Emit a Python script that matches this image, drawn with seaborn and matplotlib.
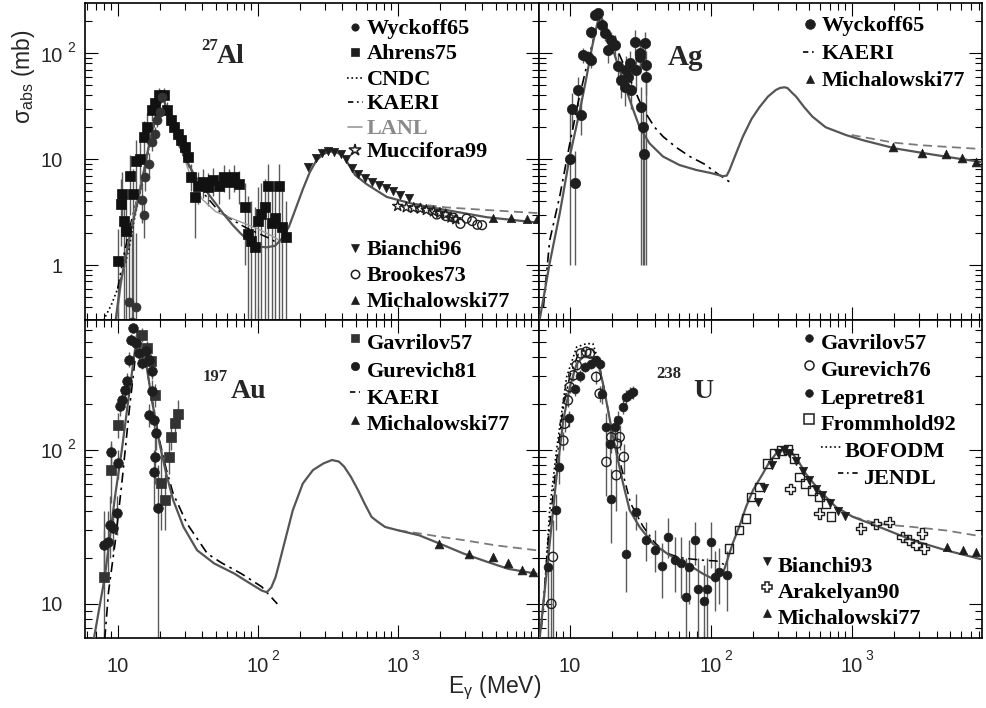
import numpy as np
import matplotlib
matplotlib.use("Agg")
import matplotlib.pyplot as plt
import seaborn as sns
from matplotlib.ticker import FixedLocator, LogLocator, NullFormatter
from matplotlib.lines import Line2D
from matplotlib.transforms import blended_transform_factory, offset_copy

# ----------------------------------------------------------------- data: 27Al
al_model_E = [9.6, 10.5, 11.5, 12.5, 14.0, 15.5, 16.6, 18.5, 20.8, 22.5, 24.6, 27.5, 30.9, 35.5, 41, 48, 57, 66, 76, 88,
              100, 115, 133, 150, 167, 188, 210, 235, 262, 295, 330, 350, 370, 390, 413, 456, 495, 600, 834, 1290,
              2240, 4310, 10200]
al_model_s = [0.28, 0.7, 1.25, 2.2, 4.1, 8.0, 13, 24, 41, 29, 20, 13.5, 9.7, 7.0, 5.4, 4.1, 3.04, 2.4, 1.97, 1.65,
              1.5, 1.47, 1.52, 1.8, 2.3, 3.5, 5.2, 7.5, 9.7, 11.2, 11.8, 11.8, 11.5, 11.1, 10.5, 8.5, 7.1, 5.8, 4.4,
              3.77, 3.3, 2.83, 2.51]
al_dash_E = [1290, 2240, 4310, 10200]
al_dash_s = [3.8, 3.5, 3.31, 3.09]
al_cndc_E = [7.9, 9.0, 10.0, 11.0, 12.0, 13.0, 14.5, 16, 18, 20.5, 23, 26, 30]
al_cndc_s = [0.3, 0.42, 0.6, 0.9, 1.4, 2.5, 5.0, 10, 20, 38, 27, 16, 10]
al_kaeri_E = [10, 11, 12.5, 14.5, 17, 19, 21, 23, 26, 30, 35, 42, 52, 65, 80, 100, 120, 140]
al_kaeri_s = [0.6, 1.2, 2.6, 5.5, 14, 27, 38, 28, 18, 11, 7.0, 4.6, 3.3, 2.7, 2.3, 2.0, 1.8, 1.6]
al_lanl_E = [9.8, 10.5, 11.5, 13, 15, 17, 19, 20.8, 23, 26, 30, 34, 40, 50, 68, 85, 100, 120, 135, 150]
al_lanl_s = [0.3, 0.6, 1.3, 3.0, 7, 15, 28, 40, 28, 17.4, 10, 6.3, 4.2, 3.2, 2.7, 2.4, 2.2, 1.95, 1.8, 1.6]
al_wyck_E = [12.1, 12.6, 13.6, 14.8, 15.3, 15.7, 16.6, 17.6, 18.6, 19.1, 19.9, 20.8]
al_wyck_s = [0.45, 0.29, 0.40, 4.1, 3.0, 6.8, 9.0, 14.5, 17.4, 23.3, 28, 39]
al_wyck_lo = [0.1, 0.1, 0.1, 2.5, 1.8, 5.0, 7.0, 12, 15, 20, 25, 35]
al_wyck_hi = [2.5, 2.0, 2.0, 6.0, 4.5, 8.8, 11.5, 17, 20, 27, 31, 43]
al_ahrens_E = [10, 10.5, 10.7, 11.1, 11.5, 12.2, 12.9, 13.6, 14.4, 15.3, 16.1, 17.6, 18.6, 19.7, 21.4, 22.6, 24, 25.4,
               26.8, 28.4, 30, 31.8, 33.6, 35.5, 37.6, 40.9, 44.4, 48.2, 52.6, 57.4, 62.4, 68, 74, 80.6, 85, 90, 95,
               100, 106, 113, 119, 126, 133, 141, 149, 158]
al_ahrens_s = [1.1, 3.8, 4.7, 2.6, 2.1, 7.0, 4.7, 9.7, 10.1, 16.2, 20, 29, 33.6, 40, 40, 29, 23.3, 20, 17.4, 15, 13,
               10.5, 6.8, 4.4, 5.6, 6.1, 5.4, 6.3, 5.6, 6.8, 6.1, 6.8, 5.8, 3.5, 1.97, 1.7, 1.47, 2.6, 3.04, 3.5, 5.6,
               2.5, 2.8, 5.6, 2.27, 1.83]
al_ahrens_lo = [0.2, 1.5, 2.0, 0.2, 0.2, 3.0, 0.2, 4.5, 5.5, 10, 14, 23, 27, 33, 33, 24, 19, 16, 14, 12, 10.5, 8.4, 5.0,
                1.8, 3.8, 4.3, 3.6, 4.5, 3.8, 4.9, 4.2, 4.9, 3.8, 1.0, 0.1, 0.1, 0.1, 0.1, 0.1, 0.1, 0.1, 0.1, 0.1,
                0.1, 0.1, 0.1]
al_ahrens_hi = [2.2, 6.5, 7.5, 5.0, 4.5, 11, 8.0, 15, 15, 23, 27, 35, 40, 47, 47, 35, 28, 24, 21, 18, 16, 13, 9, 7.5,
                7.6, 8.0, 7.4, 8.3, 7.5, 8.8, 8.0, 8.8, 7.8, 6.0, 4.5, 4.0, 3.5, 5.5, 6.0, 6.5, 9.0, 5.5, 6.0, 9.0,
                5.0, 4.0]
al_bianchi_E = [230, 260, 290, 320, 350, 390, 430, 470, 520, 580, 650, 730, 820, 920, 1040, 1200]
al_bianchi_s = [8.5, 10.2, 11.5, 11.9, 11.8, 11.2, 10.0, 8.2, 7.3, 6.6, 6.1, 5.7, 5.3, 5.0, 4.6, 4.3]
al_mucc_E = [1000, 1150, 1300, 1450, 1600, 1800, 2000, 2200, 2400, 2600]
al_mucc_s = [3.6, 3.5, 3.45, 3.4, 3.3, 3.2, 3.1, 3.0, 2.8, 2.7]
al_brookes_E = [1900, 2200, 2500, 2800, 3100, 3400, 3700, 4000]
al_brookes_s = [3.0, 2.9, 2.8, 2.45, 2.75, 2.6, 2.4, 2.38]
al_mich_E = [4800, 6400, 8400, 9900]
al_mich_s = [2.78, 2.76, 2.74, 2.7]

# ----------------------------------------------------------------- data: Ag
ag_model_E = [6.13, 7.2, 8.5, 10, 11.8, 13.0, 14.5, 16.3, 17.5, 19, 20.3, 22.5, 25.2, 28, 31.3, 36.8, 45.8, 60, 79,
              100, 122, 130, 136, 150, 169, 195, 222, 255, 290, 310, 333, 350, 380, 403, 460, 527, 654, 910, 1200,
              2050, 3520, 6050, 8850]
ag_model_s = [0.31, 1.04, 3.1, 10.6, 29, 55, 120, 239, 190, 135, 107, 70, 45, 30, 20, 14.1, 10.6, 8.8, 7.9, 7.4, 6.9,
              7.0, 7.9, 11, 16.3, 24, 31, 39, 45, 47, 47.7, 47, 42, 39, 31, 25.2, 20, 16.9, 15.1, 12.6, 11.2, 10.0,
              9.3]
ag_dash_E = [1000, 2000, 3200, 5000, 8850]
ag_dash_s = [16.9, 14.3, 13.5, 13.0, 12.4]
ag_kaeri_E = [6.5, 7.2, 8.5, 10.0, 11.5, 13, 15, 16.5, 20, 25, 30, 33, 40, 46, 57, 71, 90, 110, 136]
ag_kaeri_s = [0.4, 1.7, 4.5, 14, 35, 70, 150, 220, 140, 70, 40, 30, 20, 16.3, 12.9, 10.6, 9.0, 7.4, 6.1]
ag_wyck_E = [10.0, 10.4, 10.98, 11.4, 12.0, 12.4, 13.5, 14.2, 14.2, 15.0, 15.9, 16.8, 17.7, 18.7, 19.7, 21.0, 22.0,
             23.2, 24.5, 25.0, 25.9, 26.6, 27.3, 28.9, 29.7, 31.3, 31.3, 32.2, 33.1, 33.5, 34.0, 34.5, 35.0]
ag_wyck_s = [10, 30, 6.0, 45, 26, 96, 93, 86, 160, 230, 240, 185, 155, 107, 133, 120, 75, 56, 48, 70, 60, 80, 45, 128,
             70, 93, 100, 31, 20, 11.2, 126, 78, 60]
ag_wyck_lo = [1.0, 20, 1.0, 32, 17, 80, 80, 72, 140, 210, 220, 165, 130, 80, 105, 90, 50, 38, 32, 48, 40, 55, 30, 95,
              45, 65, 70, 1.0, 1.0, 1.0, 95, 1.0, 40]
ag_wyck_hi = [30, 42, 12, 60, 38, 112, 106, 100, 180, 250, 260, 205, 180, 135, 160, 150, 100, 80, 65, 95, 80, 105, 62,
              165, 95, 120, 130, 48, 32, 20, 160, 105, 80]
ag_mich_E = [1950, 3180, 4650, 6050, 7600]
ag_mich_s = [13.1, 11.4, 11.2, 10.2, 9.5]

# ----------------------------------------------------------------- data: 197Au
au_model_E = [6.75, 8.08, 9.56, 10.7, 12.0, 13.8, 15.8, 17.7, 19.9, 22.2, 24.9, 29.5, 36.9, 48.9, 68.4, 85.7, 107,
              116, 125, 134, 142, 159, 178, 210, 248, 295, 339, 380, 414, 462, 520, 579, 650, 724, 812, 906, 1013,
              1420, 2000, 2960, 4390, 6140, 9800]
au_model_s = [5.9, 14.9, 49.6, 100, 223, 580, 386, 201, 110, 70, 47.2, 31.6, 22.3, 18.3, 15.7, 13.8, 12.2, 11.9, 12.8,
              14.9, 18.2, 27.2, 40.6, 60.6, 74, 81.8, 86, 84, 77.9, 67, 54.9, 44.9, 36.7, 34, 31.6, 30.8, 30, 27.9,
              24.6, 21.2, 18.7, 16.9, 15.7]
au_dash_E = [1013, 1500, 2000, 3000, 5000, 9800]
au_dash_s = [30, 28.5, 27.3, 25.9, 24.0, 22.3]
au_kaeri_E = [8.08, 8.6, 9.56, 10.7, 12.0, 13.8, 15.8, 17.7, 19.9, 22.2, 24.9, 31.2, 43.7, 55, 76.5, 107, 138]
au_kaeri_s = [5.9, 12, 24.6, 60.6, 170, 520, 380, 205, 115, 75, 52, 33.3, 21.2, 18.5, 15.7, 12.9, 10]
au_gav_E = [7.94, 8.93, 10.0, 15.0, 16.3, 17.2, 18.5, 20.4, 21.6, 23.2, 23.9, 25.5, 26.9]
au_gav_s = [14.9, 74, 145, 560, 460, 377, 228, 60.6, 47.2, 90.5, 122, 149, 170]
au_gav_lo = [5, 45, 120, 500, 410, 330, 190, 30, 30, 70, 100, 125, 140]
au_gav_hi = [30, 110, 175, 620, 510, 420, 270, 100, 70, 115, 145, 175, 210]
au_gur_E = [7.98, 8.5, 8.93, 8.8, 9.3, 10.0, 9.85, 10.4, 10.8, 11.2, 11.6, 12.1, 12.5, 12.9, 13.4, 14.2, 15.0, 15.8,
            16.8, 17.5, 17.7, 16.8, 18.3, 18.8, 18.5, 18.3, 19.3]
au_gur_s = [24, 25.3, 97.5, 32.4, 30.9, 81.8, 38.7, 192, 212, 246, 279, 386, 521, 620, 496, 426, 368, 438, 386, 324,
            240, 169, 157, 128, 90.5, 72, 41.7]
au_gur_lo = [14, 15, 80, 20, 22, 65, 28, 165, 185, 215, 245, 345, 480, 580, 455, 390, 335, 400, 350, 290, 200, 140,
             130, 100, 60, 40, 3]
au_gur_hi = [40, 40, 115, 50, 42, 100, 50, 220, 240, 280, 315, 430, 565, 660, 540, 465, 405, 480, 425, 360, 285, 200,
             185, 160, 125, 100, 80]
au_mich_E = [1970, 3240, 4820, 6140, 7660, 9200]
au_mich_s = [24.6, 21.2, 20.2, 18.3, 16.6, 16.2]

# ----------------------------------------------------------------- data: 238U
u_model_E = [6.13, 7.2, 8.05, 9.0, 10, 11.2, 12.4, 14.2, 15.9, 17.2, 18.7, 20.3, 22, 23.9, 26.6, 31.3, 38.9, 51.1,
             70.8, 88, 103, 122, 143, 160, 178, 200, 234, 260, 291, 310, 333, 355, 381, 420, 473, 589, 773, 1018,
             1570, 2710, 4660, 8880]
u_model_s = [6.1, 24.6, 66.8, 156, 256, 363, 401, 401, 363, 270, 181, 121, 85.7, 60.5, 40.6, 31.6, 24.6, 20.7, 17.8,
             15.7, 14.6, 15.7, 24.6, 32, 42.6, 55, 70, 83, 94.7, 99, 102, 100, 94.7, 84, 70, 54.7, 42.6, 36.8, 31.6,
             25.9, 22.3, 19.2]
u_dash_E = [1018, 1570, 2710, 4660, 8880]
u_dash_s = [36.8, 33.0, 31.6, 30.0, 27.2]
u_bofodm_E = [6.5, 7.2, 8.05, 9.5, 11.2, 13.1, 14.6, 15.9, 17.5]
u_bofodm_s = [9.1, 40.6, 99.5, 298, 466, 490, 490, 383, 250]
u_jendl_E = [6.3, 7.0, 8.0, 9.0, 10, 11.5, 13, 14.5, 16, 18, 20, 23, 27, 33, 40, 48, 60, 75, 90, 110, 125]
u_jendl_s = [7, 25, 80, 190, 300, 420, 450, 450, 380, 220, 130, 80, 45, 32, 25, 21.5, 20, 19.5, 19.2, 19, 18]
u_gav_E = [7.03, 8.05, 8.4, 9.9, 10.9, 11.9, 12.8, 14.2, 15.4, 16.3, 16.8, 18.2, 19.2, 19.7]
u_gav_s = [17.4, 40.6, 77.5, 160, 248, 301, 346, 363, 383, 363, 232, 141, 110, 48.3]
u_gav_lo = [6, 30, 60, 140, 225, 275, 320, 335, 355, 335, 200, 110, 80, 25]
u_gav_hi = [28, 52, 95, 180, 270, 330, 375, 390, 410, 390, 265, 175, 145, 75]
u_gur_E = [7.4, 7.6, 9.0, 9.2, 9.7, 10, 10.6, 11.2, 12, 13.1, 13.9, 15.4, 16.3, 18.2, 19.7, 21.4, 21.6, 22.6, 24.2]
u_gur_s = [10, 20.2, 115, 148, 210, 256, 305, 355, 423, 434, 423, 298, 232, 83.6, 121, 68.5, 110, 121, 90]
u_gur_lo = [3, 3, 100, 130, 190, 235, 280, 330, 395, 405, 395, 270, 205, 50, 95, 40, 85, 100, 70]
u_gur_hi = [17, 35, 130, 166, 230, 278, 330, 380, 450, 465, 450, 325, 260, 115, 150, 100, 135, 145, 110]
u_lep_E = [20.8, 22, 23.9, 25.2, 26.6, 28, 24.9, 29.6, 34.5, 40, 45.3, 49.7, 55.5, 61.9, 67, 70, 77.6, 81, 88.9, 93.8,
           100, 108, 115, 130]
u_lep_s = [141, 156, 190, 221, 232, 238, 21.2, 39.6, 25.9, 22.5, 17.6, 27.2, 19.2, 18.5, 11.1, 17.4, 25.9, 12.5, 10.5,
           12.5, 25.3, 15.0, 16.1, 15.3]
u_lep_lo = [120, 135, 170, 200, 210, 215, 12, 30, 19, 16, 11, 20, 12, 11, 3, 10, 18, 6, 3, 6, 17, 9, 10, 9]
u_lep_hi = [165, 180, 212, 245, 255, 262, 40, 52, 34, 30, 25, 36, 27, 27, 20, 26, 34, 20, 18, 20, 34, 22, 23, 22]
u_fromm_E = [135, 159, 178, 193, 222, 253, 283, 316, 354, 390, 425, 473, 525, 589, 657, 714]
u_fromm_s = [22.9, 30.2, 35.8, 49.5, 57.5, 81.5, 94.7, 99.5, 100.5, 88, 66.8, 60.5, 54.7, 49.5, 44.9, 36.8]
u_bianchi_E = [215, 240, 270, 300, 330, 360, 400, 450, 500, 560, 620, 700, 800, 900]
u_bianchi_s = [46, 57, 80, 95, 100, 96, 85, 73, 64, 56, 51, 45, 40, 37]
u_arak_E = [367, 589, 1160, 1490, 1850, 2300, 2550, 2860, 3160, 3270]
u_arak_s = [55.6, 38.6, 30.9, 33.2, 33.9, 27.2, 25.9, 24.1, 28.6, 22.9]
u_mich_E = [4750, 6150, 7620]
u_mich_s = [23.5, 22.5, 21.8]

# ----------------------------------------------------------------- style
sns.set_theme(style="ticks")
plt.rcParams.update({
    "font.family": ["Liberation Sans", "DejaVu Sans"],
    "mathtext.fontset": "custom",
    "mathtext.rm": "Liberation Sans",
    "mathtext.it": "Liberation Sans:italic",
    "mathtext.bf": "Liberation Sans:bold",
    "axes.facecolor": "white",
    "figure.facecolor": "white",
})

MODEL = "#555555"
DASH = "#7a7a7a"
MARK = "#1e1e1e"
ERR = "#5a5a5a"
SERIF = "Liberation Serif"

W, H = 986, 708
fig = plt.figure(figsize=(W / 100, H / 100), dpi=100)


def rect(x0, y0, x1, y1):
    return [x0 / W, 1 - y1 / H, (x1 - x0) / W, (y1 - y0) / H]


ax_al = fig.add_axes(rect(85, 3.3, 539, 320))
ax_ag = fig.add_axes(rect(539, 3.3, 982, 320))
ax_au = fig.add_axes(rect(85, 320, 539, 637.5))
ax_u = fig.add_axes(rect(539, 320, 982, 637.5))


def setup(ax, xlim, ylim):
    ax.set_xscale("log")
    ax.set_yscale("log")
    ax.set_xlim(*xlim)
    ax.set_ylim(*ylim)
    ax.xaxis.set_major_locator(FixedLocator([10, 100, 1000]))
    ax.yaxis.set_major_locator(FixedLocator([1, 10, 100]))
    for a in (ax.xaxis, ax.yaxis):
        a.set_minor_locator(LogLocator(base=10, subs=np.arange(2, 10), numticks=40))
        a.set_major_formatter(NullFormatter())
        a.set_minor_formatter(NullFormatter())
    ax.tick_params(which="both", direction="in", top=True, right=True, bottom=True, left=True,
                   labelbottom=False, labelleft=False, color="black", width=0.8)
    ax.tick_params(which="major", length=9.6)
    ax.tick_params(which="minor", length=4.8)
    for sp in ax.spines.values():
        sp.set_visible(True)
        sp.set_linewidth(1.2)
        sp.set_color("black")
    ax.set_xlabel("")
    ax.set_ylabel("")


setup(ax_al, (5.84, 10200), (0.303, 296))
setup(ax_ag, (6.05, 8410), (0.303, 296))
setup(ax_au, (5.84, 10200), (6.05, 698))
setup(ax_u, (6.05, 8410), (6.05, 698))


def curve(ax, E, s, color=MODEL, lw=1.6, ls="-", z=3):
    sns.lineplot(x=E, y=s, ax=ax, color=color, linewidth=lw, linestyle=ls,
                 estimator=None, sort=False, zorder=z)
    ax.lines[-1].set_solid_joinstyle("round")


def pts(ax, E, s, marker, size, filled=True, color=MARK, lw=1.0):
    if filled:
        sns.scatterplot(x=E, y=s, ax=ax, marker=marker, s=size, color=color,
                        edgecolor=color, linewidth=0.5, zorder=5)
    else:
        sns.scatterplot(x=E, y=s, ax=ax, marker=marker, s=size, facecolors="none",
                        edgecolor=color, linewidth=lw, zorder=5)


def bars(ax, E, lo, hi):
    ax.vlines(E, lo, hi, colors=ERR, linewidth=1.0, zorder=2.5)


DOT = ":"
DASHDOT = (0, (6, 3, 1.5, 3))
DASHED = (0, (5, 3))
KEY_DASHDOT = (0, (3.2, 2.2, 1.0, 2.2))

# --- Al
curve(ax_al, al_cndc_E, al_cndc_s, color="black", lw=1.2, ls=DOT)
curve(ax_al, al_kaeri_E, al_kaeri_s, color="black", lw=1.1, ls=DASHDOT)
curve(ax_al, al_lanl_E, al_lanl_s, color="#9a9a9a", lw=1.0)
curve(ax_al, al_dash_E, al_dash_s, color=DASH, lw=1.3, ls=DASHED)
curve(ax_al, al_model_E, al_model_s)
bars(ax_al, al_ahrens_E, al_ahrens_lo, al_ahrens_hi)
bars(ax_al, al_wyck_E, al_wyck_lo, al_wyck_hi)
pts(ax_al, al_ahrens_E, al_ahrens_s, "s", 42, color="#111111")
pts(ax_al, al_wyck_E, al_wyck_s, "o", 42, color="#333333")
pts(ax_al, al_bianchi_E, al_bianchi_s, "v", 36)
pts(ax_al, al_mucc_E, al_mucc_s, "*", 60, filled=False)
pts(ax_al, al_brookes_E, al_brookes_s, "o", 40, filled=False)
pts(ax_al, al_mich_E, al_mich_s, "^", 36)

# --- Ag
curve(ax_ag, ag_kaeri_E, ag_kaeri_s, color="black", lw=1.2, ls=DASHDOT)
curve(ax_ag, ag_dash_E, ag_dash_s, color=DASH, lw=1.3, ls=DASHED)
curve(ax_ag, ag_model_E, ag_model_s)
bars(ax_ag, ag_wyck_E, ag_wyck_lo, ag_wyck_hi)
pts(ax_ag, ag_wyck_E, ag_wyck_s, "o", 55)
pts(ax_ag, ag_mich_E, ag_mich_s, "^", 40)

# --- Au
curve(ax_au, au_kaeri_E, au_kaeri_s, color="black", lw=1.2, ls=DASHDOT)
curve(ax_au, au_dash_E, au_dash_s, color=DASH, lw=1.3, ls=DASHED)
curve(ax_au, au_model_E, au_model_s)
bars(ax_au, au_gav_E, au_gav_lo, au_gav_hi)
bars(ax_au, au_gur_E, au_gur_lo, au_gur_hi)
pts(ax_au, au_gav_E, au_gav_s, "s", 42, color="#333333")
pts(ax_au, au_gur_E, au_gur_s, "o", 48)
pts(ax_au, au_mich_E, au_mich_s, "^", 40)

# --- U
curve(ax_u, u_bofodm_E, u_bofodm_s, color="black", lw=1.2, ls=DOT)
curve(ax_u, u_jendl_E, u_jendl_s, color="black", lw=1.1, ls=DASHDOT)
curve(ax_u, u_dash_E, u_dash_s, color=DASH, lw=1.3, ls=DASHED)
curve(ax_u, u_model_E, u_model_s)
bars(ax_u, u_gav_E, u_gav_lo, u_gav_hi)
bars(ax_u, u_gur_E, u_gur_lo, u_gur_hi)
bars(ax_u, u_lep_E, u_lep_lo, u_lep_hi)
pts(ax_u, u_gav_E, u_gav_s, "o", 40)
pts(ax_u, u_lep_E, u_lep_s, "o", 40)
pts(ax_u, u_gur_E, u_gur_s, "o", 44, filled=False)
pts(ax_u, u_fromm_E, u_fromm_s, "s", 40, filled=False)
pts(ax_u, u_bianchi_E, u_bianchi_s, "v", 36)
pts(ax_u, u_arak_E, u_arak_s, "P", 55, filled=False)
pts(ax_u, u_mich_E, u_mich_s, "^", 36)


# ----------------------------------------------------------------- tick labels (ROOT style)
def xlabels(ax, ticks):
    tr = blended_transform_factory(ax.transData, ax.transAxes)
    for t in ticks:
        e = int(round(np.log10(t)))
        ax.text(t, 0, "1" if e == 0 else "10", ha="center", va="baseline", fontsize=14.5,
                transform=offset_copy(tr, fig=fig, x=0, y=-35, units="dots"))
        if e >= 2:
            ax.text(t, 0, str(e), ha="left", va="baseline", fontsize=10,
                    transform=offset_copy(tr, fig=fig, x=13.5, y=-22.5, units="dots"))


def ylabels(ax, ticks):
    tr = blended_transform_factory(ax.transAxes, ax.transData)
    for t in ticks:
        e = int(round(np.log10(t)))
        dy = -7.5 if e < 2 else -8.5
        ax.text(0, t, "1" if e == 0 else "10", ha="right", va="baseline", fontsize=14.5,
                transform=offset_copy(tr, fig=fig, x=-22, y=dy, units="dots"))
        if e >= 2:
            ax.text(0, t, str(e), ha="left", va="baseline", fontsize=10,
                    transform=offset_copy(tr, fig=fig, x=-18, y=1, units="dots"))


xlabels(ax_au, [10, 100, 1000])
xlabels(ax_u, [10, 100, 1000])
ylabels(ax_al, [1, 10, 100])
ylabels(ax_au, [10, 100])

fig.text(541.7 / W, 1 - 692.7 / H, r"E$_{\mathregular{\gamma}}$ (MeV)", ha="right", va="baseline",
         fontsize=16.5)
fig.text(23.4 / W, 1 - 76.7 / H, r"$\mathregular{\sigma_{abs}}$ (mb)", rotation=90, ha="center",
         va="center", fontsize=16.5)


# ----------------------------------------------------------------- panel labels
def nucleus(xs, ys, sup, xe, ye, sym, size=20):
    if sup:
        fig.text(xs / W, 1 - ys / H, sup, family=SERIF, fontweight="bold", fontsize=12, va="baseline")
    fig.text(xe / W, 1 - ye / H, sym, family=SERIF, fontweight="bold", fontsize=size, va="baseline")


nucleus(201.4, 50, "27", 217, 63.3, "Al")
nucleus(0, 0, "", 668, 65, "Ag", size=21)
nucleus(203, 380.7, "197", 231, 398.3, "Au")
nucleus(656, 378, "238", 693, 398, "U")


# ----------------------------------------------------------------- legends (ROOT-like, drawn in figure pixels)
def key_marker(x, y, marker, ms, filled=True, color=MARK):
    fig.add_artist(Line2D([x / W], [1 - y / H], transform=fig.transFigure, marker=marker, ms=ms,
                          mfc=color if filled else "none", mec=color, mew=0.5 if filled else 1.1,
                          ls="none"))


def key_line(x0, x1, y, ls, color="black", lw=1.2):
    fig.add_artist(Line2D([x0 / W, x1 / W], [1 - y / H, 1 - y / H], transform=fig.transFigure,
                          color=color, lw=lw, linestyle=ls))


def key_text(x, y, s, color="black"):
    fig.text(x / W, 1 - (y + 7) / H, s, family=SERIF, fontweight="bold", fontsize=16,
             va="baseline", color=color)


# Al upper
for yy, lab, m in [(26.7, "Wyckoff65", ("o", 5.3, True)), (52.3, "Ahrens75", ("s", 5.3, True)),
                   (150, "Muccifora99", ("*", 9, False))]:
    key_marker(355, yy, m[0], m[1], m[2])
    key_text(366.7, yy, lab)
key_line(346.7, 361.7, 77.7, DOT)
key_text(366.7, 77.7, "CNDC")
key_line(348, 363, 102.3, KEY_DASHDOT)
key_text(366.7, 102.3, "KAERI")
key_line(348, 362, 126.7, "-", color="#9a9a9a")
key_text(366.7, 126.7, "LANL", color="#8a8a8a")
# Al lower
for yy, lab, m in [(247.7, "Bianchi96", ("v", 5.5, True)), (274, "Brookes73", ("o", 6, False)),
                   (300, "Michalowski77", ("^", 5.5, True))]:
    key_marker(355, yy, m[0], m[1], m[2])
    key_text(366.7, yy, lab)
# Ag
key_marker(810, 24, "o", 7)
key_text(821.7, 24, "Wyckoff65")
key_line(803, 817, 51.7, KEY_DASHDOT)
key_text(821.7, 51.7, "KAERI")
key_marker(810, 79, "^", 6)
key_text(821.7, 79, "Michalowski77")
# Au
key_marker(354.7, 338, "s", 5.5, color="#333333")
key_text(366.7, 341.7, "Gavrilov57")
key_marker(354.7, 366, "o", 6)
key_text(366.7, 370, "Gurevich81")
key_line(349.5, 360, 391.7, KEY_DASHDOT)
key_text(366.7, 397.3, "KAERI")
key_marker(354.7, 419.5, "^", 5.5)
key_text(366.7, 423.3, "Michalowski77")
# U upper
for yy, lab, m in [(341.7, "Gavrilov57", ("o", 5.5, True)), (369, "Gurevich76", ("o", 6.5, False)),
                   (396.7, "Lepretre81", ("o", 5.5, True)), (423.3, "Frommhold92", ("s", 6.5, False))]:
    key_marker(809, yy - 4, m[0], m[1], m[2])
    key_text(820.7, yy, lab)
key_line(821, 842, 446.7, DOT)
key_text(845, 450, "BOFODM")
key_line(838, 858, 472.7, KEY_DASHDOT)
key_text(863, 476.7, "JENDL")
# U lower
for yy, lab, m in [(565, "Bianchi93", ("v", 5.5, True)), (591, "Arakelyan90", ("P", 7, False)),
                   (617.3, "Michalowski77", ("^", 5.5, True))]:
    key_marker(766.7, yy - 4, m[0], m[1], m[2])
    key_text(778, yy, lab)

fig.savefig("out.png", dpi=100, facecolor="white")
